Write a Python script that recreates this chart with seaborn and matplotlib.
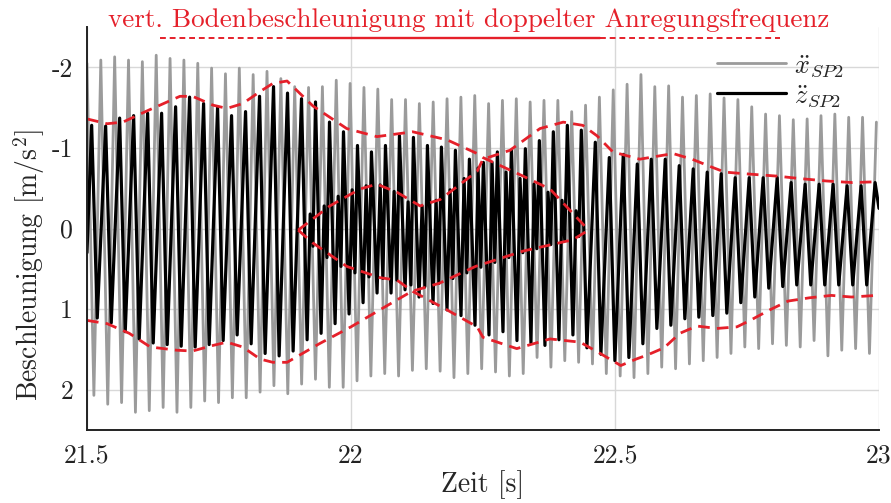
import numpy as np
import pandas as pd
import matplotlib
matplotlib.use('Agg')
import matplotlib.pyplot as plt
import seaborn as sns

# x_SP2 (grey): peak values per cycle
x_top = [-2.05, -2.09, -2.13, -2.09, -2.07, -2.15, -2.11, -2.09, -2.05, -1.99,
         -1.92, -1.99, -1.91, -1.95, -1.86, -1.76, -1.75, -1.76, -1.84, -1.80,
         -1.75, -1.73, -1.60, -1.60, -1.55, -1.57, -1.61, -1.63, -1.65, -1.55,
         -1.59, -1.61, -1.57, -1.59, -1.59, -1.45, -1.53, -1.63, -1.72, -1.79,
         -1.91, -1.76, -1.77, -1.63, -1.65, -1.67, -1.62, -1.60, -1.51, -1.42,
         -1.40, -1.35, -1.36, -1.40, -1.42, -1.38, -1.38, -1.32]
x_bot = [2.07, 2.18, 2.16, 2.28, 2.26, 2.22, 2.28, 2.22, 2.14, 2.16,
         2.10, 2.10, 2.03, 1.95, 2.05, 1.93, 1.87, 1.97, 1.97, 1.89,
         1.83, 1.80, 1.83, 1.76, 1.74, 1.77, 1.85, 1.80, 1.74, 1.78,
         1.83, 1.80, 1.60, 1.72, 1.64, 1.66, 1.68, 1.80, 1.83, 1.85,
         1.80, 1.72, 1.74, 1.68, 1.64, 1.60, 1.55, 1.47, 1.49, 1.43,
         1.45, 1.47, 1.39, 1.58, 1.51, 1.49, 1.55]

# z_SP2 (black): peaks per cycle plus the double frequency wiggle
z_top = [-1.28, -1.27, -1.37, -1.40, -1.43, -1.43, -1.51, -1.63, -1.55, -1.50,
         -1.40, -1.45, -1.64, -1.76, -1.68, -1.61, -1.57, -1.32, -1.20, -1.03,
         -0.95, -1.03, -1.15, -1.13, -1.03, -1.01, -0.97, -0.86, -0.82, -0.95,
         -0.97, -0.99, -1.09, -1.20, -1.28, -1.22, -1.07, -0.88, -0.92, -0.80,
         -0.86, -0.86, -0.78, -0.74, -0.70, -0.68, -0.63, -0.63, -0.63, -0.63,
         -0.57, -0.55, -0.55, -0.55, -0.53, -0.53, -0.57]
z_bot = [1.11, 1.17, 1.28, 1.37, 1.42, 1.44, 1.46, 1.47, 1.44, 1.39,
         1.32, 1.43, 1.55, 1.58, 1.52, 1.38, 1.30, 1.18, 1.06, 0.92,
         0.80, 0.80, 0.76, 0.85, 0.93, 1.01, 1.08, 1.20, 1.32, 1.28,
         1.39, 1.42, 1.45, 1.38, 1.32, 1.48, 1.56, 1.64, 1.60, 1.43,
         1.24, 1.20, 1.12, 1.10, 1.08, 1.05, 0.92, 0.85, 0.74, 0.72,
         0.70, 0.70, 0.70, 0.70, 0.70, 0.70]
z_wig_hi = [None] * 15 + [-0.18, -0.28, -0.40, -0.48, -0.53, -0.54, -0.46, -0.33, -0.28, -0.35,
                          -0.48, -0.62, -0.75, -0.82, -0.70, -0.62, -0.55, -0.45, -0.35, -0.22] + [None] * 22
z_wig_lo = [None] * 15 + [0.22, 0.36, 0.47, 0.55, 0.60, 0.62, 0.64, 0.70, 0.72, 0.68,
                          0.62, 0.55, 0.48, 0.42, 0.36, 0.30, 0.25, 0.20, 0.15, 0.10] + [None] * 22
z_start = 0.30
z_end = -0.25

# red dashed envelopes (time, value)
env_u1_t = [21.500, 21.538, 21.568, 21.614, 21.676, 21.700, 21.739, 21.765, 21.795, 21.828, 21.852,
            21.879, 21.928, 21.992, 22.049, 22.117, 22.182, 22.239, 22.250, 22.326, 22.377, 22.450]
env_u1_v = [-1.36, -1.30, -1.32, -1.46, -1.64, -1.64, -1.53, -1.49, -1.55, -1.70, -1.80,
            -1.83, -1.52, -1.24, -1.14, -1.20, -1.10, -0.93, -0.88, -0.65, -0.49, 0.02]
env_u2_t = [21.900, 21.960, 22.017, 22.049, 22.087, 22.131, 22.169, 22.239, 22.250, 22.301, 22.358, 22.402, 22.439,
            22.466, 22.496, 22.547, 22.610, 22.646, 22.684, 22.708, 22.745, 22.807, 22.850, 22.900, 22.950, 22.995]
env_u2_v = [0.02, -0.28, -0.49, -0.55, -0.45, -0.28, -0.36, -0.71, -0.86, -0.97, -1.24, -1.32, -1.28,
            -1.15, -0.95, -0.86, -0.93, -0.86, -0.76, -0.70, -0.68, -0.65, -0.62, -0.59, -0.57, -0.58]
env_l1_t = [21.500, 21.538, 21.580, 21.620, 21.670, 21.700, 21.739, 21.765, 21.795, 21.828, 21.852,
            21.879, 21.940, 22.000, 22.065, 22.115, 22.167, 22.236, 22.326, 22.420, 22.450]
env_l1_v = [1.14, 1.18, 1.30, 1.47, 1.51, 1.52, 1.45, 1.41, 1.47, 1.62, 1.66,
            1.66, 1.43, 1.22, 0.97, 0.78, 0.68, 0.47, 0.28, 0.14, 0.02]
env_l2_t = [21.900, 21.928, 21.992, 22.055, 22.087, 22.117, 22.182, 22.239, 22.250, 22.314, 22.377, 22.434, 22.472,
            22.511, 22.540, 22.561, 22.593, 22.623, 22.655, 22.693, 22.731, 22.756, 22.793, 22.828, 22.868,
            22.910, 22.948, 22.995]
env_l2_v = [0.02, 0.18, 0.47, 0.61, 0.64, 0.78, 1.01, 1.22, 1.35, 1.49, 1.37, 1.41, 1.55,
            1.70, 1.62, 1.57, 1.48, 1.30, 1.21, 1.24, 1.22, 1.14, 1.01, 0.90, 0.86,
            0.83, 0.85, 0.83]

# underline of the title: time spans
ul_start = [21.638, 21.884, 22.472]
ul_end = [21.884, 22.472, 22.812]
ul_style = ['dashed', 'solid', 'dashed']

x_ticks = [21.5, 22, 22.5, 23]
x_tick_labels = ['21.5', '22', '22.5', '23']
y_ticks = [-2, -1, 0, 1, 2]
y_tick_labels = ['-2', '-1', '0', '1', '2']

# cycle timing
T0_X, T_X = 21.5, 0.02623
T0_Z, T_Z = 21.5089, 0.026496

sns.set_style('white')
plt.rcParams['font.family'] = ['cmr10', 'DejaVu Serif']
plt.rcParams['mathtext.fontset'] = 'cm'
plt.rcParams['axes.unicode_minus'] = False

# grey signal points
tx, vx = [], []
for k, top in enumerate(x_top):
    tx.append(T0_X + k * T_X)
    vx.append(top)
    if k < len(x_bot):
        tx.append(T0_X + (k + 0.5) * T_X)
        vx.append(x_bot[k])
df_x = pd.DataFrame({'t': tx, 'v': vx})

# black signal points
tz, vz = [21.5], [z_start]
for k, top in enumerate(z_top):
    tz.append(T0_Z + k * T_Z)
    vz.append(top)
    if k < len(z_bot):
        tz.append(T0_Z + (k + 0.4) * T_Z)
        vz.append(z_bot[k])
    if z_wig_hi[k] is not None:
        tz.append(T0_Z + (k + 0.62) * T_Z)
        vz.append(z_wig_hi[k])
        tz.append(T0_Z + (k + 0.82) * T_Z)
        vz.append(z_wig_lo[k])
tz.append(23.0)
vz.append(z_end)
df_z = pd.DataFrame({'t': tz, 'v': vz})

fig = plt.figure(figsize=(8.91, 5.03), dpi=100)
ax = fig.add_axes([0.0976, 0.1451, 0.8889, 0.8012])

red = '#e5202a'
sns.lineplot(data=df_x, x='t', y='v', ax=ax, color='#9b9b9b', lw=2.0, sort=False,
             estimator=None, label=r'$\ddot{x}_{SP2}$')
sns.lineplot(data=df_z, x='t', y='v', ax=ax, color='black', lw=2.3, sort=False,
             estimator=None, label=r'$\ddot{z}_{SP2}$')
for et, ev in [(env_u1_t, env_u1_v), (env_u2_t, env_u2_v), (env_l1_t, env_l1_v), (env_l2_t, env_l2_v)]:
    ax.plot(et, ev, color=red, lw=2.0, dashes=(4.2, 2.6))

for a, b, s in zip(ul_start, ul_end, ul_style):
    if s == 'dashed':
        ax.plot([a, b], [-2.36, -2.36], color=red, lw=1.4, dashes=(3, 2))
    else:
        ax.plot([a, b], [-2.36, -2.36], color=red, lw=1.7)

fig.text(0.526, 0.960, 'vert. Bodenbeschleunigung mit doppelter Anregungsfrequenz',
         color=red, fontsize=19.5, ha='center', va='center')

ax.set_xlim(21.5, 23)
ax.set_ylim(2.5, -2.5)
ax.set_xticks(x_ticks)
ax.set_xticklabels(x_tick_labels)
ax.set_yticks(y_ticks)
ax.set_yticklabels(y_tick_labels)
ax.grid(True, color='#d8d8d8', lw=1.0)
ax.set_axisbelow(True)
ax.tick_params(direction='in', length=6, width=1.2, labelsize=18.5, colors='#222222', pad=10)
for side in ['top', 'right']:
    ax.spines[side].set_visible(False)
for side in ['left', 'bottom']:
    ax.spines[side].set_color('#222222')
    ax.spines[side].set_linewidth(1.4)
ax.set_xlabel('Zeit [s]', fontsize=20, labelpad=2)
ax.set_ylabel('Beschleunigung [m/s$^2$]', fontsize=20)
ax.yaxis.set_label_coords(-0.05, 0.41)

leg = ax.legend(loc='upper right', bbox_to_anchor=(0.985, 0.995), frameon=False, fontsize=19,
                handlelength=2.6, handletextpad=0.3, labelspacing=0.15)

fig.savefig('out.png', dpi=100)
